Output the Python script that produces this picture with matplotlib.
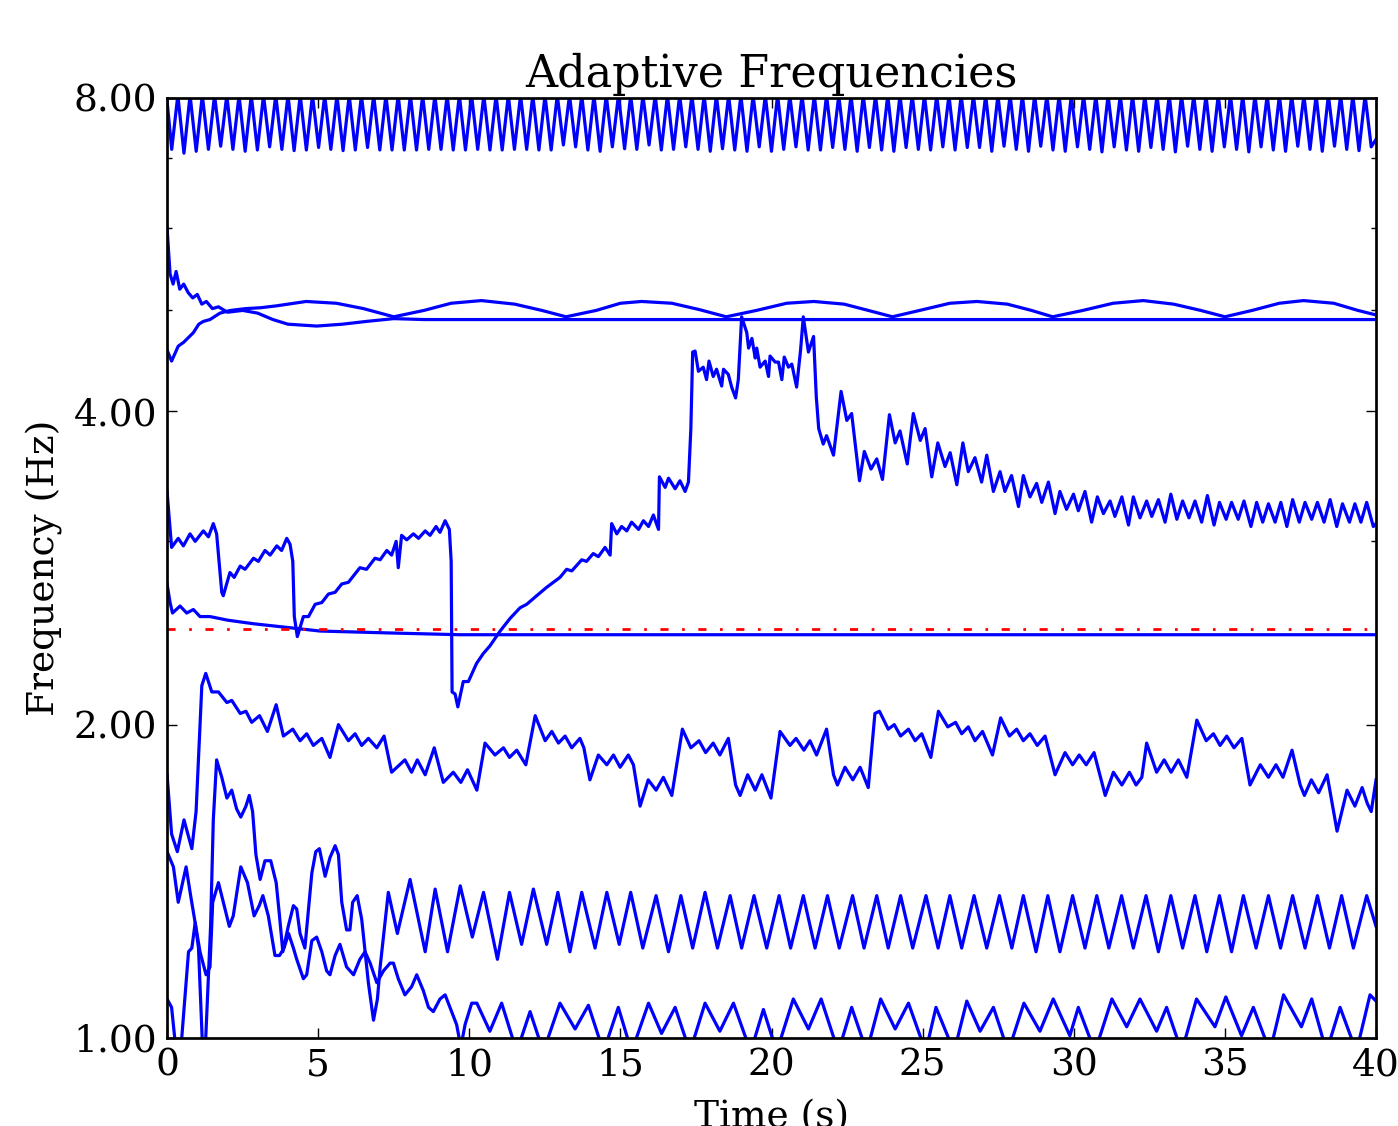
import matplotlib
matplotlib.use('Agg')

import numpy as np
import matplotlib.pyplot as plt
from matplotlib.ticker import FixedLocator, FormatStrFormatter, NullFormatter

# ---- values (time in s, frequency in Hz) ----

# top oscillator: troughs, the peaks run past 8 Hz and are clipped
top_first, top_last = 0.154, 39.84
top_peak = 8.05
top_start, top_end = 7.95, 7.30
top_troughs = [
    7.14, 7.08, 7.11, 7.14, 7.19, 7.14, 7.11, 7.13, 7.18, 7.14, 7.12, 7.13,
    7.17, 7.14, 7.12, 7.13, 7.17, 7.13, 7.13, 7.13, 7.13, 7.14, 7.14, 7.13,
    7.13, 7.14, 7.13, 7.13, 7.14, 7.14, 7.13, 7.13, 7.21,
    7.18, 7.13, 7.11, 7.18, 7.15, 7.14, 7.21, 7.13, 7.14, 7.18, 7.14, 7.11,
    7.15, 7.13, 7.11, 7.18, 7.11, 7.14, 7.18, 7.13, 7.13, 7.17, 7.14, 7.11,
    7.17, 7.13, 7.11, 7.17, 7.14, 7.13, 7.18, 7.13, 7.17,
    7.17, 7.11, 7.19, 7.14, 7.11, 7.19, 7.13, 7.11, 7.18, 7.14, 7.10, 7.18,
    7.13, 7.11, 7.17, 7.14, 7.10, 7.19, 7.14, 7.11, 7.18, 7.14, 7.10, 7.18,
    7.13, 7.11, 7.19, 7.14, 7.11, 7.19, 7.14, 7.12, 7.18,
]

# the two lines near 5 Hz
b1_t = [0.00, 0.10, 0.20, 0.30, 0.42, 0.55, 0.70, 0.85, 1.00, 1.15, 1.30,
        1.50, 1.70, 2.00, 2.50, 3.00, 3.50, 4.00, 4.95, 5.80, 6.60, 7.50,
        8.50, 40.0]
b1_f = [6.00, 5.42, 5.30, 5.45, 5.24, 5.30, 5.20, 5.14, 5.18, 5.07, 5.10,
        5.02, 5.04, 4.98, 5.00, 4.97, 4.90, 4.85, 4.83, 4.85, 4.88, 4.91,
        4.90, 4.90]

b2_t = [0.00, 0.15, 0.37, 0.55, 0.87, 1.05, 1.20, 1.42, 1.75, 2.10, 2.60,
        3.10, 3.60, 4.60, 5.60, 6.50, 7.50, 8.50, 9.40, 10.4, 11.5, 12.4,
        13.2, 14.2, 15.0, 15.7, 16.7, 17.6, 18.5, 19.5, 20.5, 21.4, 22.4,
        23.2, 24.0, 24.9, 25.9, 26.8, 27.8, 28.6, 29.3, 30.3, 31.3, 32.3,
        33.3, 34.2, 35.0, 35.9, 36.8, 37.6, 38.6, 39.4, 40.0]
b2_f = [4.58, 4.47, 4.62, 4.66, 4.76, 4.85, 4.88, 4.90, 4.97, 5.00, 5.02,
        5.03, 5.05, 5.10, 5.08, 5.02, 4.93, 5.00, 5.08, 5.11, 5.07, 5.00,
        4.93, 5.00, 5.08, 5.10, 5.08, 5.01, 4.93, 5.00, 5.08, 5.10, 5.07,
        5.00, 4.93, 5.00, 5.08, 5.10, 5.07, 5.00, 4.93, 5.00, 5.08, 5.11,
        5.07, 5.00, 4.93, 5.00, 5.08, 5.11, 5.08, 5.00, 4.95]

# the wandering line (sawtooth, jump to 4.5 Hz, decay to 3.2 Hz)
c_t = [0.00, 0.15, 0.37, 0.54, 0.76, 0.93, 1.20, 1.37, 1.53, 1.64, 1.81,
       1.86, 2.08, 2.22, 2.42, 2.58, 2.86, 3.02, 3.24, 3.41, 3.63, 3.79,
       3.96, 4.07, 4.16, 4.21, 4.31, 4.51, 4.68, 4.90, 5.12, 5.34, 5.56,
       5.78, 6.00, 6.38, 6.60, 6.88, 7.05, 7.27, 7.43, 7.58, 7.65, 7.76,
       7.93, 8.15, 8.32, 8.54, 8.70, 8.90, 9.03, 9.20, 9.34, 9.40, 9.43,
       9.53, 9.62, 9.80, 9.97, 10.24, 10.46, 10.68, 11.02, 11.35, 11.68,
       11.90, 12.23, 12.56, 13.00, 13.22, 13.39, 13.72, 13.88, 14.10, 14.27,
       14.49, 14.66, 14.71, 14.88, 15.04, 15.21, 15.37, 15.60, 15.76, 15.93,
       16.09, 16.26, 16.29, 16.48, 16.59, 16.81, 16.97, 17.14, 17.25, 17.33,
       17.39, 17.47, 17.58, 17.74, 17.85, 17.93, 18.07, 18.18, 18.35, 18.41,
       18.57, 18.68, 18.81, 18.90, 19.01, 19.18, 19.24, 19.35, 19.46, 19.51,
       19.62, 19.79, 19.90, 19.95, 20.12, 20.23, 20.34, 20.42, 20.56, 20.67,
       20.83, 20.96, 21.05, 21.22, 21.39, 21.48, 21.56, 21.71, 21.82, 22.05,
       22.30, 22.49, 22.65, 22.91, 23.07, 23.29, 23.48, 23.67, 23.90, 24.09,
       24.25, 24.49, 24.69, 24.92, 25.08, 25.30, 25.50, 25.74, 25.91, 26.13,
       26.33, 26.51, 26.73, 26.95, 27.12, 27.34, 27.56, 27.72, 27.94, 28.17,
       28.33, 28.55, 28.77, 28.94, 29.16, 29.38, 29.54, 29.76, 29.99, 30.15,
       30.37, 30.59, 30.78, 30.98, 31.20, 31.36, 31.59, 31.81, 31.97, 32.19,
       32.41, 32.58, 32.80, 33.02, 33.21, 33.41, 33.60, 33.81, 34.01, 34.23,
       34.42, 34.64, 34.82, 35.04, 35.22, 35.44, 35.63, 35.86, 36.05, 36.25,
       36.44, 36.66, 36.85, 37.05, 37.24, 37.46, 37.65, 37.87, 38.06, 38.28,
       38.48, 38.70, 38.89, 39.12, 39.30, 39.50, 39.69, 39.91, 40.00]
c_f = [3.35, 2.96, 3.02, 2.97, 3.05, 3.00, 3.07, 3.03, 3.12, 3.05, 2.68,
       2.66, 2.80, 2.77, 2.84, 2.82, 2.89, 2.87, 2.94, 2.91, 2.97, 2.94,
       3.02, 2.98, 2.87, 2.54, 2.43, 2.54, 2.54, 2.61, 2.62, 2.67, 2.68,
       2.73, 2.74, 2.83, 2.82, 2.89, 2.88, 2.94, 2.91, 3.00, 2.83, 3.04,
       3.01, 3.05, 3.02, 3.07, 3.04, 3.10, 3.06, 3.14, 3.08, 2.87, 2.15,
       2.14, 2.08, 2.20, 2.20, 2.29, 2.34, 2.38, 2.46, 2.53, 2.59,
       2.61, 2.66, 2.71, 2.77, 2.82, 2.81, 2.88, 2.87, 2.92, 2.90,
       2.96, 2.91, 3.12, 3.05, 3.10, 3.07, 3.13, 3.08, 3.14, 3.10,
       3.18, 3.08, 3.46, 3.38, 3.45, 3.37, 3.43, 3.35, 3.42, 3.85,
       4.56, 4.57, 4.37, 4.41, 4.29, 4.47, 4.32, 4.39, 4.23, 4.39,
       4.34, 4.22, 4.12, 4.29, 4.93, 4.76, 4.60, 4.70, 4.50, 4.60,
       4.41, 4.47, 4.32, 4.52, 4.46, 4.46, 4.29, 4.51, 4.41, 4.44,
       4.22, 4.58, 4.93, 4.56, 4.72, 4.13, 3.85, 3.72, 3.79, 3.63,
       4.18, 3.92, 3.98, 3.43, 3.66, 3.52, 3.60, 3.44, 3.97, 3.73,
       3.83, 3.56, 3.98, 3.75, 3.85, 3.46, 3.73, 3.54, 3.65, 3.40,
       3.73, 3.50, 3.61, 3.42, 3.63, 3.35, 3.50, 3.35, 3.47, 3.24,
       3.47, 3.31, 3.41, 3.27, 3.42, 3.19, 3.35, 3.22, 3.33, 3.21,
       3.35, 3.13, 3.31, 3.19, 3.28, 3.17, 3.31, 3.11, 3.31, 3.16,
       3.28, 3.17, 3.29, 3.13, 3.33, 3.15, 3.28, 3.16, 3.28, 3.13,
       3.32, 3.11, 3.27, 3.15, 3.27, 3.15, 3.28, 3.10, 3.27, 3.13,
       3.26, 3.13, 3.27, 3.10, 3.29, 3.13, 3.27, 3.15, 3.27, 3.13,
       3.29, 3.10, 3.26, 3.13, 3.26, 3.13, 3.27, 3.10, 3.12]

# line settling just under the reference frequency
d_t = [0.00, 0.10, 0.18, 0.43, 0.65, 0.87, 1.09, 1.42, 2.00, 2.86, 3.96,
       5.06, 7.27, 9.70, 40.0]
d_f = [2.73, 2.62, 2.56, 2.60, 2.56, 2.58, 2.54, 2.54, 2.52, 2.50, 2.48,
       2.46, 2.45, 2.44, 2.44]

ref_freq = 2.47

# line around 2 Hz
e_t = [0.00, 0.15, 0.34, 0.56, 0.82, 0.96, 1.15, 1.28, 1.48, 1.70, 1.98,
       2.14, 2.42, 2.61, 2.80, 3.06, 3.32, 3.61, 3.85, 4.16, 4.40, 4.62,
       4.84, 5.12, 5.39, 5.67, 6.00, 6.22, 6.44, 6.66, 6.94, 7.18, 7.43,
       7.87, 8.09, 8.28, 8.54, 8.84, 9.14, 9.47, 9.72, 9.94, 10.25, 10.52,
       10.85, 11.13, 11.33, 11.57, 11.87, 12.18, 12.51, 12.73, 12.95, 13.17,
       13.39, 13.66, 13.79, 13.99, 14.27, 14.55, 14.77, 14.99, 15.26, 15.43,
       15.65, 15.92, 16.18, 16.42, 16.70, 17.05, 17.33, 17.60, 17.82, 18.07,
       18.29, 18.57, 18.81, 18.96, 19.21, 19.46, 19.68, 19.98, 20.28, 20.61,
       20.81, 21.07, 21.27, 21.49, 21.82, 22.05, 22.18, 22.43, 22.69, 22.93,
       23.20, 23.42, 23.57, 23.86, 24.06, 24.27, 24.53, 24.75, 24.97, 25.27,
       25.52, 25.83, 26.09, 26.29, 26.51, 26.73, 26.98, 27.31, 27.58, 27.87,
       28.11, 28.33, 28.55, 28.79, 29.05, 29.38, 29.71, 29.96, 30.18, 30.41,
       30.67, 31.04, 31.31, 31.59, 31.84, 32.06, 32.25, 32.41, 32.74, 32.99,
       33.22, 33.46, 33.74, 34.07, 34.38, 34.62, 34.84, 35.06, 35.30, 35.56,
       35.83, 36.17, 36.44, 36.69, 36.92, 37.22, 37.49, 37.63, 37.86, 38.10,
       38.38, 38.71, 39.04, 39.30, 39.54, 39.71, 39.84, 40.00]
e_f = [1.79, 1.57, 1.51, 1.62, 1.52, 1.65, 2.18, 2.24, 2.15, 2.15, 2.10,
       2.11, 2.05, 2.06, 2.01, 2.04, 1.97, 2.09, 1.95, 1.98, 1.93, 1.96,
       1.91, 1.94, 1.86, 2.00, 1.93, 1.96, 1.91, 1.94, 1.90, 1.95, 1.80,
       1.85, 1.80, 1.85, 1.79, 1.90, 1.76, 1.80, 1.76, 1.81, 1.73, 1.92,
       1.87, 1.90, 1.86, 1.89, 1.83, 2.04, 1.93, 1.97, 1.92, 1.95,
       1.90, 1.94, 1.90, 1.77, 1.87, 1.83, 1.87, 1.82, 1.87, 1.83,
       1.67, 1.77, 1.73, 1.78, 1.71, 1.98, 1.90, 1.93, 1.88, 1.92,
       1.87, 1.94, 1.75, 1.71, 1.79, 1.73, 1.79, 1.70, 1.97, 1.91,
       1.94, 1.89, 1.93, 1.87, 1.98, 1.79, 1.75, 1.82, 1.77, 1.82,
       1.74, 2.05, 2.06, 1.98, 2.00, 1.95, 1.98, 1.93, 1.96, 1.86,
       2.06, 1.99, 2.01, 1.96, 1.99, 1.93, 1.97, 1.87, 2.03, 1.95,
       1.98, 1.93, 1.96, 1.91, 1.95, 1.79, 1.88, 1.83, 1.87, 1.83,
       1.88, 1.71, 1.80, 1.75, 1.80, 1.75, 1.78, 1.92, 1.80, 1.85,
       1.80, 1.85, 1.78, 2.02, 1.93, 1.96, 1.91, 1.95, 1.90, 1.94,
       1.75, 1.83, 1.78, 1.83, 1.78, 1.89, 1.75, 1.71, 1.77, 1.72,
       1.79, 1.58, 1.73, 1.67, 1.74, 1.68, 1.65, 1.77]

# line that jumps to 1.85 Hz, then oscillates between 1.22 and 1.37 Hz
g_t = [0.00, 0.15, 0.30, 0.45, 0.71, 0.82, 0.93, 1.04, 1.11, 1.18, 1.26,
       1.37, 1.44, 1.53, 1.64, 1.81, 1.98, 2.14, 2.30, 2.44, 2.61, 2.72,
       2.83, 2.94, 3.08, 3.24, 3.43, 3.61, 3.72, 3.83, 4.01, 4.18, 4.29,
       4.40, 4.56, 4.79, 4.92, 5.04, 5.23, 5.39, 5.56, 5.67, 5.78, 5.94,
       6.05, 6.14, 6.29, 6.44, 6.66, 6.83, 6.96, 7.05,
       7.32, 7.62, 8.04, 8.54, 8.87, 9.28, 9.70, 10.10, 10.47, 10.93, 11.33,
       11.73, 12.12, 12.56, 12.93, 13.33, 13.72, 14.16, 14.55, 14.96, 15.34,
       15.74, 16.18, 16.59, 17.00, 17.39, 17.80, 18.21, 18.63, 19.01, 19.42,
       19.84, 20.25, 20.63, 21.05, 21.44, 21.85, 22.24, 22.68, 23.06, 23.48,
       23.86, 24.27, 24.67, 25.11, 25.51, 25.90, 26.29, 26.70, 27.12, 27.54,
       27.95, 28.33, 28.75, 29.14, 29.54, 29.96, 30.37, 30.76, 31.16, 31.58,
       31.97, 32.39, 32.80, 33.21, 33.60, 34.01, 34.40, 34.82, 35.22, 35.61,
       36.03, 36.44, 36.84, 37.24, 37.65, 38.06, 38.46, 38.86, 39.25, 39.69,
       40.00]
g_f = [1.09, 1.07, 0.97, 0.97, 1.21, 1.22, 1.29, 1.22, 1.09, 0.97, 0.97,
       1.15, 1.28, 1.62, 1.85, 1.78, 1.70, 1.73, 1.66, 1.63, 1.67, 1.71,
       1.65, 1.50, 1.42, 1.48, 1.48, 1.41, 1.31, 1.21, 1.28, 1.34, 1.33,
       1.26, 1.22, 1.44, 1.51, 1.52, 1.43, 1.49, 1.53, 1.50, 1.35, 1.27,
       1.27, 1.35, 1.37, 1.30, 1.13, 1.04, 1.09, 1.17,
       1.38, 1.26, 1.42, 1.21, 1.39, 1.21, 1.40, 1.25, 1.38, 1.19, 1.38,
       1.23, 1.39, 1.23, 1.38, 1.21, 1.38, 1.22, 1.38, 1.23, 1.38,
       1.22, 1.37, 1.21, 1.37, 1.22, 1.38, 1.22, 1.37, 1.22, 1.37,
       1.22, 1.37, 1.22, 1.37, 1.22, 1.37, 1.22, 1.37, 1.22, 1.37,
       1.22, 1.37, 1.22, 1.37, 1.22, 1.37, 1.22, 1.37, 1.22, 1.37,
       1.22, 1.37, 1.21, 1.37, 1.21, 1.37, 1.22, 1.37, 1.22, 1.37,
       1.22, 1.37, 1.21, 1.37, 1.22, 1.37, 1.21, 1.37, 1.21, 1.37,
       1.22, 1.37, 1.22, 1.37, 1.22, 1.37, 1.22, 1.37, 1.22, 1.37,
       1.28]

# lowest line, troughs dip below 1 Hz and get clipped
h_t = [0.00, 0.21, 0.37, 0.63, 0.78, 0.93, 1.09, 1.29, 1.42, 1.51, 1.70,
       1.89, 2.06, 2.19, 2.44, 2.66, 2.88, 3.05, 3.17, 3.35, 3.57, 3.72,
       3.87, 4.02, 4.18, 4.29, 4.51, 4.62, 4.79, 4.95, 5.12, 5.28, 5.39,
       5.56, 5.72, 5.94, 6.17, 6.38, 6.55, 6.72, 6.94, 7.16, 7.38, 7.49,
       7.65, 7.87, 8.09, 8.26, 8.48, 8.65, 8.81, 9.03, 9.20, 9.36, 9.58,
       9.72, 9.86, 10.08, 10.25, 10.68, 11.07, 11.57, 12.01, 12.45, 13.00,
       13.50, 13.94, 14.44, 14.93, 15.37, 15.93, 16.36, 16.81, 17.30, 17.80,
       18.29, 18.74, 19.31, 19.73, 20.17, 20.72, 21.22, 21.64, 22.21, 22.65,
       23.15, 23.61, 24.09, 24.53, 25.10, 25.44, 26.04, 26.46, 26.90, 27.34,
       27.83, 28.35, 28.88, 29.32, 29.87, 30.15, 30.70, 31.26, 31.75, 32.19,
       32.74, 33.07, 33.57, 34.06, 34.67, 35.03, 35.55, 35.94, 36.49, 36.94,
       37.53, 37.87, 38.36, 38.81, 39.35, 39.80, 40.00]
h_f = [1.51, 1.46, 1.35, 1.46, 1.37, 1.29, 1.21, 1.15, 1.17, 1.35, 1.41,
       1.34, 1.28, 1.31, 1.46, 1.41, 1.31, 1.34, 1.37, 1.31, 1.20, 1.20,
       1.22, 1.26, 1.22, 1.19, 1.14, 1.15, 1.24, 1.25, 1.21, 1.16, 1.15,
       1.20, 1.23, 1.17, 1.15, 1.19, 1.21, 1.18, 1.13, 1.16, 1.18, 1.18,
       1.14, 1.10, 1.12, 1.15, 1.11, 1.07, 1.06, 1.09, 1.10, 1.07, 1.03,
       0.98, 1.03, 1.08, 1.08, 1.015, 1.08, 0.97, 1.06, 0.97, 1.08,
       1.02, 1.075, 0.97, 1.07, 0.97, 1.08, 1.01, 1.07, 0.97, 1.08,
       1.015, 1.08, 0.97, 1.065, 0.97, 1.09, 1.02, 1.09, 0.97, 1.07,
       0.97, 1.09, 1.02, 1.08, 0.97, 1.07, 0.97, 1.085, 1.015, 1.07,
       0.97, 1.08, 1.015, 1.09, 1.005, 1.07, 0.97, 1.09, 1.025, 1.09,
       1.015, 1.07, 0.97, 1.09, 1.025, 1.095, 1.005, 1.07, 0.97, 1.10,
       1.025, 1.09, 0.97, 1.07, 0.97, 1.10, 1.085]

# ---- style (old classic look, serif font) ----
plt.rcParams['font.family'] = ['DejaVu Serif']
plt.rcParams['font.size'] = 27
plt.rcParams['lines.scale_dashes'] = False
lw = 2.3

fig = plt.figure(figsize=(13.98, 11.26), dpi=100)
ax = fig.add_axes([0.1195, 0.0782, 0.8648, 0.8348])

# top oscillator: troughs on even samples, clipped peaks on odd ones
top_t = np.linspace(top_first, top_last, 2 * len(top_troughs) - 1)
top_f = np.full(top_t.size, top_peak)
top_f[::2] = top_troughs
top_t = np.concatenate([[0.0], top_t, [40.0]])
top_f = np.concatenate([[top_start], top_f, [top_end]])

ax.plot(top_t, top_f, color='b', lw=lw)
for t, f in [(b1_t, b1_f), (b2_t, b2_f), (c_t, c_f), (d_t, d_f),
             (e_t, e_f), (g_t, g_f), (h_t, h_f)]:
    ax.plot(t, f, color='b', lw=lw)

ax.plot([0, 40], [ref_freq, ref_freq], color='r', lw=2.0,
        linestyle=(0, (5.85, 9.75, 1.95, 9.75)))

ax.set_yscale('log', base=2)
ax.set_xlim(0, 40)
ax.set_ylim(1, 8)
ax.yaxis.set_major_locator(FixedLocator([1, 2, 4, 8]))
ax.yaxis.set_major_formatter(FormatStrFormatter('%.2f'))
ax.yaxis.set_minor_locator(FixedLocator([3, 5, 6, 7]))
ax.yaxis.set_minor_formatter(NullFormatter())
ax.set_xticks(range(0, 41, 5))

ax.tick_params(which='both', direction='in', top=True, right=True, width=1)
ax.tick_params(which='major', length=7.5, pad=7)
ax.tick_params(which='minor', length=3.9)
for s in ax.spines.values():
    s.set_linewidth(1.95)

ax.set_title('Adaptive Frequencies', fontsize=32, pad=8)
ax.set_xlabel('Time (s)', labelpad=11)
ax.set_ylabel('Frequency (Hz)', labelpad=8)

fig.savefig('out.png', dpi=100)
